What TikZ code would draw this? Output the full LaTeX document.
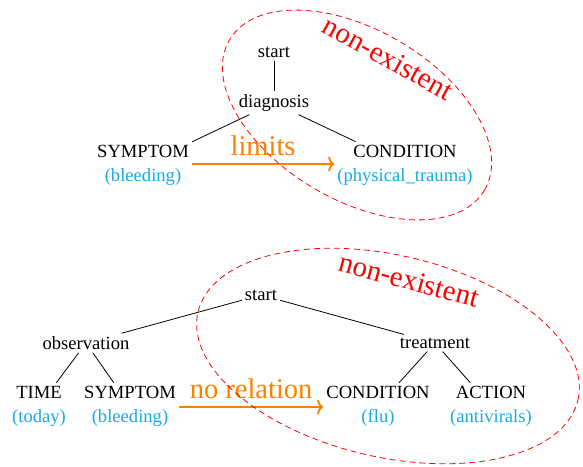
\documentclass[tikz,border=0pt]{standalone}
\usepackage{fontspec}
\setmainfont{Liberation Serif}
\usetikzlibrary{arrows.meta}
\definecolor{lblblue}{RGB}{25,170,230}
\definecolor{relorange}{RGB}{255,128,0}
\tikzset{
  tnode/.style={font=\fontsize{18.6}{24}\selectfont, inner sep=3pt, align=center},
  treeedge/.style={draw=black, line width=0.8pt},
  relarrow/.style={draw=relorange, line width=1.9pt, -{To[length=6pt,width=15pt]}},
  rellabel/.style={text=relorange, font=\fontsize{28.5}{30}\selectfont, inner sep=0pt},
  nonex/.style={draw=red, line width=0.8pt, dash pattern=on 6pt off 4pt},
  nonextext/.style={text=red, font=\fontsize{29}{30}\selectfont}
}
\begin{document}
\begin{tikzpicture}[x=1pt,y=1pt]
\useasboundingbox (0,0) rectangle (583,-466);
% top tree
\node[tnode] (start1) at (274,-52) {start};
\node[tnode] (diag) at (274,-103) {diagnosis};
\node[tnode] (symp1) at (143,-165) {SYMPTOM\\{\color{lblblue}(bleeding)}};
\node[tnode] (cond1) at (405,-165) {CONDITION\\{\color{lblblue}(physical\_trauma)}};
\draw[treeedge] (start1) -- (diag);
\draw[treeedge] (diag) -- (symp1);
\draw[treeedge] (diag) -- (cond1);
\draw[relarrow] (symp1.east |- 0,-164) -- node[rellabel, above=7pt] (lim) {limits} (cond1.west |- 0,-164);
\draw[nonex, rotate around={-30.5:(357,-115)}] (357,-115) ellipse [x radius=148pt, y radius=85pt];
\node[nonextext, rotate=-29] (ne1) at (388,-58) {non-existent};
% bottom tree
\node[tnode] (start2) at (261,-295) {start};
\node[tnode] (obs) at (86,-343) {observation};
\node[tnode] (treat) at (435,-343) {treatment};
\node[tnode] (time) at (39,-406) {TIME\\{\color{lblblue}(today)}};
\node[tnode] (symp2) at (130,-406) {SYMPTOM\\{\color{lblblue}(bleeding)}};
\node[tnode] (cond2) at (378,-406) {CONDITION\\{\color{lblblue}(flu)}};
\node[tnode] (action) at (491,-406) {ACTION\\{\color{lblblue}(antivirals)}};
\draw[treeedge] (start2) -- (obs);
\draw[treeedge] (start2) -- (treat);
\draw[treeedge] (obs) -- (time);
\draw[treeedge] (obs) -- (symp2);
\draw[treeedge] (treat) -- (cond2);
\draw[treeedge] (treat) -- (action);
\draw[relarrow] (symp2.east |- 0,-407) -- node[rellabel, above=7pt] (norel) {no relation} (cond2.west |- 0,-407);
\draw[nonex, rotate around={-13:(388,-356)}] (388,-356) ellipse [x radius=195pt, y radius=101pt];
\node[nonextext, rotate=-15] (ne2) at (409,-280) {non-existent};
\end{tikzpicture}
\end{document}
